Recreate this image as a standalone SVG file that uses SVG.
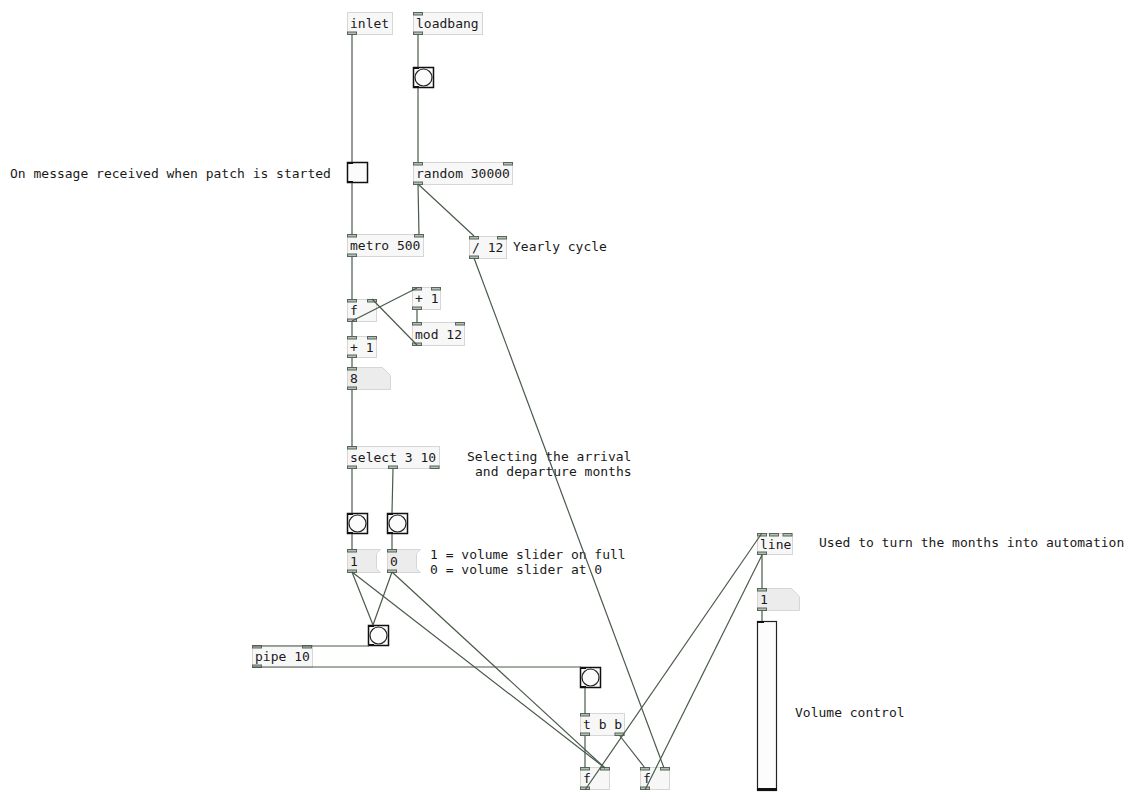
<svg xmlns="http://www.w3.org/2000/svg" width="1127" height="792" viewBox="0 0 1127 792">
<style>
text{font-family:"DejaVu Sans Mono","Liberation Mono",monospace;font-size:13px;fill:#1a1a1a}
.obj{fill:#f7f7f7;stroke:#d6d6d6;stroke-width:1}
.atom{fill:#ececec;stroke:#d6d6d6;stroke-width:1}
.io{fill:#b4bfb4;stroke:#56665a;stroke-width:1}
.gui{fill:#fcfcfc;stroke:#111;stroke-width:1.5}
.circ{fill:#fcfcfc;stroke:#222;stroke-width:1.2}
.gio{fill:#111}
.cn line{stroke:#4a5a4a;stroke-width:1.2}
</style>
<rect width="1127" height="792" fill="#ffffff"/>
<defs>
<rect id="tab" class="io" width="9" height="2.5"/>
</defs>

<g id="n-inlet"><rect class="obj" x="347.5" y="12.5" width="45" height="22"/><text x="350" y="28">inlet</text><use href="#tab" x="347.5" y="32"/></g>
<g id="n-loadbang"><rect class="obj" x="413.5" y="12.5" width="69" height="22"/><text x="416" y="28">loadbang</text><use href="#tab" x="413.5" y="12.5"/><use href="#tab" x="413.5" y="32"/></g>
<g id="n-bang1"><rect class="gui" x="413.5" y="67.5" width="20" height="20"/><circle class="circ" cx="423.5" cy="77.5" r="8.5"/><rect class="gio" x="413" y="67" width="6" height="2"/><rect class="gio" x="413" y="86" width="6" height="2"/></g>
<g id="n-toggle"><rect class="gui" x="347.5" y="162.5" width="20" height="20"/><rect class="gio" x="347" y="162" width="6" height="2"/><rect class="gio" x="347" y="181" width="6" height="2"/></g>
<text x="10" y="178">On message received when patch is started</text>
<g id="n-random"><rect class="obj" x="413.5" y="162.5" width="99" height="22"/><text x="416" y="178">random 30000</text><use href="#tab" x="413.5" y="162.5"/><use href="#tab" x="503.5" y="162.5"/><use href="#tab" x="413.5" y="182"/></g>
<g id="n-metro"><rect class="obj" x="347.5" y="234.5" width="76" height="22"/><text x="350" y="250">metro 500</text><use href="#tab" x="347.5" y="234.5"/><use href="#tab" x="414.5" y="234.5"/><use href="#tab" x="347.5" y="254"/></g>
<g id="n-div"><rect class="obj" x="469.5" y="236.5" width="37" height="22"/><text x="472" y="252">/ 12</text><use href="#tab" x="469.5" y="236.5"/><use href="#tab" x="497.5" y="236.5"/><use href="#tab" x="469.5" y="256"/></g>
<text x="513" y="251">Yearly cycle</text>
<g id="n-f1"><rect class="obj" x="347.5" y="299.5" width="29" height="22"/><text x="350" y="315">f</text><use href="#tab" x="347.5" y="299.5"/><use href="#tab" x="367.5" y="299.5"/><use href="#tab" x="347.5" y="319"/></g>
<g id="n-plus1a"><rect class="obj" x="412.5" y="287.5" width="28" height="22"/><text x="415" y="303">+ 1</text><use href="#tab" x="412.5" y="287.5"/><use href="#tab" x="431.5" y="287.5"/><use href="#tab" x="412.5" y="307"/></g>
<g id="n-mod"><rect class="obj" x="412.5" y="322.5" width="52" height="23"/><text x="415" y="339">mod 12</text><use href="#tab" x="412.5" y="322.5"/><use href="#tab" x="455.5" y="322.5"/><use href="#tab" x="412.5" y="343"/></g>
<g id="n-plus1b"><rect class="obj" x="347.5" y="336.5" width="29" height="21"/><text x="350" y="352">+ 1</text><use href="#tab" x="347.5" y="336.5"/><use href="#tab" x="367.5" y="336.5"/><use href="#tab" x="347.5" y="355"/></g>
<g id="n-num8"><path class="atom" d="M347.5 367.5H382.5L390.5 375.5V389.5H347.5Z"/><text x="350" y="383">8</text><use href="#tab" x="347.5" y="367.5"/><use href="#tab" x="347.5" y="387"/></g>
<g id="n-select"><rect class="obj" x="347.5" y="446.5" width="92" height="22"/><text x="350" y="462">select 3 10</text><use href="#tab" x="347.5" y="446.5"/><use href="#tab" x="347.5" y="466"/><use href="#tab" x="388.5" y="466"/><use href="#tab" x="430" y="466"/></g>
<text x="467" y="461">Selecting the arrival</text>
<text x="475" y="476">and departure months</text>
<g id="n-bangL"><rect class="gui" x="347.5" y="513.5" width="20" height="20"/><circle class="circ" cx="357.5" cy="523.5" r="8.5"/><rect class="gio" x="347" y="513" width="6" height="2"/><rect class="gio" x="347" y="532" width="6" height="2"/></g>
<g id="n-bangR"><rect class="gui" x="387.5" y="513.5" width="20" height="20"/><circle class="circ" cx="397.5" cy="523.5" r="8.5"/><rect class="gio" x="387" y="513" width="6" height="2"/><rect class="gio" x="387" y="532" width="6" height="2"/></g>
<g id="n-msg1"><path class="atom" d="M347.5 549.5H380.5L376.5 553.5V568.5L380.5 572.5H347.5Z"/><text x="350" y="566">1</text><use href="#tab" x="347.5" y="549.5"/><use href="#tab" x="347.5" y="570"/></g>
<g id="n-msg0"><path class="atom" d="M387.5 549.5H420.5L416.5 553.5V568.5L420.5 572.5H387.5Z"/><text x="390" y="566">0</text><use href="#tab" x="387.5" y="549.5"/><use href="#tab" x="387.5" y="570"/></g>
<text x="430" y="559">1 = volume slider on full</text>
<text x="430" y="574">0 = volume slider at 0</text>
<g id="n-bangM"><rect class="gui" x="368.5" y="625.5" width="20" height="20"/><circle class="circ" cx="378.5" cy="635.5" r="8.5"/><rect class="gio" x="368" y="625" width="6" height="2"/><rect class="gio" x="368" y="644" width="6" height="2"/></g>
<g id="n-pipe"><rect class="obj" x="252.5" y="645.5" width="60" height="22"/><text x="255" y="661">pipe 10</text><use href="#tab" x="252.5" y="645.5"/><use href="#tab" x="302.5" y="645.5"/><use href="#tab" x="252.5" y="665"/></g>
<g id="n-bangBR"><rect class="gui" x="580.5" y="667.5" width="20" height="20"/><circle class="circ" cx="590.5" cy="677.5" r="8.5"/><rect class="gio" x="580" y="667" width="6" height="2"/><rect class="gio" x="580" y="686" width="6" height="2"/></g>
<g id="n-tbb"><rect class="obj" x="580.5" y="713.5" width="44" height="22"/><text x="583" y="729">t b b</text><use href="#tab" x="580.5" y="713.5"/><use href="#tab" x="580.5" y="733"/><use href="#tab" x="615" y="733"/></g>
<g id="n-fL"><rect class="obj" x="580.5" y="767.5" width="29" height="22"/><text x="583" y="783">f</text><use href="#tab" x="580.5" y="767.5"/><use href="#tab" x="600.5" y="767.5"/><use href="#tab" x="580.5" y="787"/></g>
<g id="n-fR"><rect class="obj" x="640.5" y="767.5" width="29" height="22"/><text x="643" y="783">f</text><use href="#tab" x="640.5" y="767.5"/><use href="#tab" x="660.5" y="767.5"/><use href="#tab" x="640.5" y="787"/></g>
<g id="n-line"><rect class="obj" x="757.5" y="533.5" width="35" height="21"/><text x="760" y="549">line</text><use href="#tab" x="757.5" y="533.5"/><use href="#tab" x="769.5" y="533.5"/><use href="#tab" x="783" y="533.5"/><use href="#tab" x="757.5" y="552"/></g>
<text x="819" y="547">Used to turn the months into automation</text>
<g id="n-num1"><path class="atom" d="M757.5 588.5H791.5L799.5 596.5V610.5H757.5Z"/><text x="760" y="604">1</text><use href="#tab" x="757.5" y="588.5"/><use href="#tab" x="757.5" y="608"/></g>
<g id="n-slider"><rect x="757.5" y="621.5" width="19" height="169" fill="#fcfcfc" stroke="#222" stroke-width="1.2"/><rect class="gio" x="757" y="621" width="7" height="2"/><rect class="gio" x="757" y="788" width="20" height="3"/></g>
<text x="795" y="717">Volume control</text>

<g id="connectors" class="cn">
<line x1="352" y1="34" x2="352" y2="162"/>
<line x1="418" y1="34" x2="418" y2="67"/>
<line x1="418" y1="88" x2="418" y2="162"/>
<line x1="352" y1="183" x2="352" y2="235"/>
<line x1="418" y1="184" x2="419" y2="235"/>
<line x1="418" y1="184" x2="474" y2="236"/>
<line x1="352" y1="257" x2="352" y2="299"/>
<line x1="352" y1="321" x2="417" y2="288"/>
<line x1="417" y1="310" x2="417" y2="323"/>
<line x1="417" y1="345" x2="372" y2="299"/>
<line x1="352" y1="321" x2="352" y2="336"/>
<line x1="352" y1="358" x2="352" y2="367"/>
<line x1="352" y1="389" x2="352" y2="447"/>
<line x1="352" y1="469" x2="352" y2="513"/>
<line x1="393" y1="469" x2="392" y2="513"/>
<line x1="352" y1="534" x2="352" y2="550"/>
<line x1="392" y1="534" x2="392" y2="550"/>
<line x1="352" y1="572" x2="373" y2="625"/>
<line x1="392" y1="572" x2="373" y2="625"/>
<line x1="352" y1="572" x2="605" y2="768"/>
<line x1="392" y1="572" x2="605" y2="768"/>
<line x1="369" y1="646" x2="253" y2="646"/>
<line x1="253" y1="667" x2="581" y2="667"/>
<line x1="585" y1="688" x2="585" y2="714"/>
<line x1="585" y1="736" x2="585" y2="768"/>
<line x1="620" y1="736" x2="645" y2="768"/>
<line x1="474" y1="258" x2="664" y2="768"/>
<line x1="585" y1="790" x2="762" y2="533"/>
<line x1="645" y1="790" x2="762" y2="555"/>
<line x1="762" y1="555" x2="762" y2="588"/>
<line x1="762" y1="610" x2="762" y2="621"/>
</g>
</svg>
